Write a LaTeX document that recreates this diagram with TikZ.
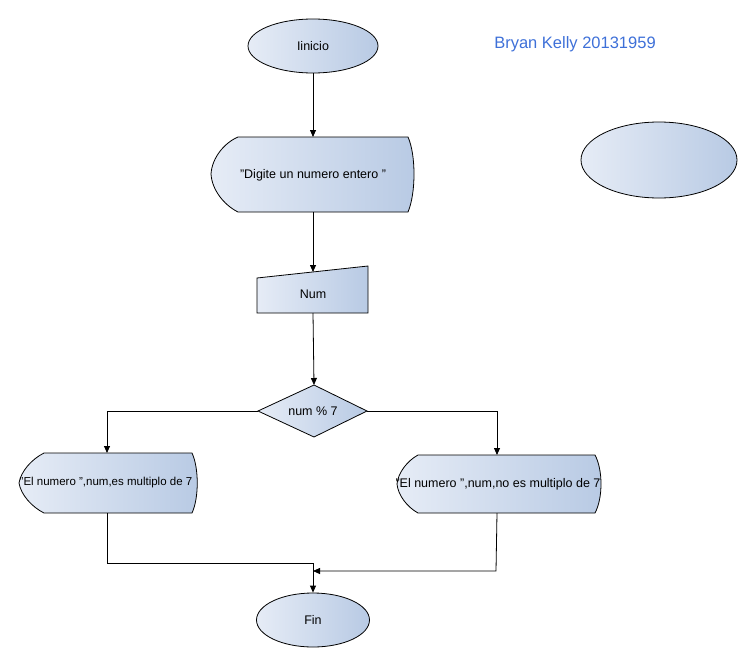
\documentclass[tikz,border=0pt]{standalone}
\usepackage{fontspec}
\setmainfont{Liberation Sans}
\usetikzlibrary{arrows.meta,shapes.geometric}
\definecolor{shL}{RGB}{230,236,246}
\definecolor{shR}{RGB}{184,202,228}
\definecolor{author}{RGB}{62,112,216}
\begin{document}
\begin{tikzpicture}[x=1pt,y=-1pt,
  shp/.style={draw=black,line width=0.8pt,left color=shL,right color=shR},
  term/.style={shp,ellipse,inner sep=0pt},
  lbl/.style={font=\fontsize{12.5}{14}\selectfont,inner sep=0pt},
  conn/.style={line width=0.8pt},
  arr/.style={conn,-{Triangle[length=7pt,width=6pt]}}]
\useasboundingbox (0,0) rectangle (752,664);

% terminals
\node[term,minimum width=130,minimum height=54,lbl] (inicio) at (313,46) {Iinicio};
\node[term,minimum width=156,minimum height=76] (extra) at (659,160) {};
\node[term,minimum width=113,minimum height=54,lbl] (fin) at (313,620) {Fin};

% display "Digite"
\path[shp] (238,137) -- (408,137) .. controls (416,155) and (416,193) .. (408,212)
  -- (238,212) .. controls (224,205) and (212,190) .. (211,174)
  .. controls (212,158) and (224,143) .. (238,137) -- cycle;
\node[lbl] (digite) at (313,175) {"Digite un numero entero "};
\coordinate (digtop) at (313,137);
\coordinate (digbot) at (313,212);

% manual input Num
\path[shp] (257,278) -- (368,266) -- (368,313) -- (257,313) -- cycle;
\node[lbl] (num) at (313,294) {Num};
\coordinate (numtop) at (313,272);
\coordinate (numbot) at (313,313);

% decision
\path[shp] (314,385) -- (367,411) -- (314,437) -- (258,411) -- cycle;
\node[lbl] (dec) at (313,411) {num \% 7};
\coordinate (dectop) at (314,385);
\coordinate (decL) at (258,411);
\coordinate (decR) at (367,411);

% left display
\path[shp] (44,453) -- (192,453) .. controls (199,468) and (199,498) .. (192,513)
  -- (44,513) .. controls (32,507) and (21,495) .. (19,483)
  .. controls (21,471) and (32,459) .. (44,453) -- cycle;
\node[lbl,font=\fontsize{11.5}{14}\selectfont] (yes) at (106,483) {"El numero ",num,es multiplo de 7};
\coordinate (yestop) at (107,453);
\coordinate (yesbot) at (107,513);

% right display
\path[shp] (418,455) -- (595,455) .. controls (603,470) and (603,498) .. (595,513)
  -- (418,513) .. controls (407,507) and (398,495) .. (397,484)
  .. controls (398,473) and (407,461) .. (418,455) -- cycle;
\node[lbl] (no) at (498,484) {"El numero ",num,no es multiplo de 7};
\coordinate (notop) at (497,455);
\coordinate (nobot) at (497,513);

% author
\node[font=\fontsize{16.5}{19}\selectfont,text=author,inner sep=0pt] (author) at (575,44) {Bryan Kelly 20131959};

% connectors
\coordinate (jL) at (107,563);
\coordinate (jR) at (496,571);
\coordinate (mL) at (313,563);
\coordinate (mR) at (313,571);
\draw[arr] (inicio.south) -- (digtop);
\draw[arr] (digbot) -- (numtop);
\draw[arr] (numbot) -- (dectop);
\draw[arr] (decL) -| (yestop);
\draw[arr] (decR) -| (notop);
\draw[arr] (yesbot) -- (jL) -- (mL) -- (fin.north);
\draw[arr] (nobot) -- (jR) -- (mR);
\end{tikzpicture}
\end{document}
